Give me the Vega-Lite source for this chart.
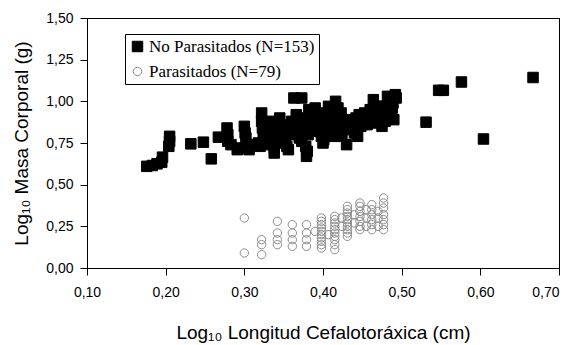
{
  "$schema": "https://vega.github.io/schema/vega-lite/v6.json",
  "width": 472,
  "height": 250,
  "autosize": {"type": "none"},
  "padding": {"left": 87, "top": 18, "right": 5, "bottom": 77},
  "background": "white",
  "config": {
    "view": {"stroke": "black", "strokeWidth": 1},
    "axis": {
      "grid": false,
      "domainColor": "black",
      "domainWidth": 1,
      "tickColor": "black",
      "labelColor": "black",
      "titleColor": "black",
      "labelFont": "Liberation Sans",
      "titleFont": "Liberation Sans",
      "labelFontSize": 14,
      "titleFontSize": 19,
      "titleFontWeight": "normal",
      "tickSize": 7,
      "labelFlush": false
    }
  },
  "data": {
    "values": [
      {"x": 0.176, "y": 0.61, "g": "No"}, {"x": 0.183, "y": 0.615, "g": "No"}, {"x": 0.189, "y": 0.625, "g": "No"}, {"x": 0.195, "y": 0.635, "g": "No"},
      {"x": 0.196, "y": 0.665, "g": "No"}, {"x": 0.204, "y": 0.73, "g": "No"}, {"x": 0.205, "y": 0.76, "g": "No"}, {"x": 0.205, "y": 0.79, "g": "No"},
      {"x": 0.232, "y": 0.745, "g": "No"}, {"x": 0.248, "y": 0.755, "g": "No"}, {"x": 0.258, "y": 0.655, "g": "No"}, {"x": 0.267, "y": 0.785, "g": "No"},
      {"x": 0.278, "y": 0.84, "g": "No"}, {"x": 0.279, "y": 0.8, "g": "No"}, {"x": 0.279, "y": 0.76, "g": "No"}, {"x": 0.283, "y": 0.74, "g": "No"},
      {"x": 0.291, "y": 0.71, "g": "No"}, {"x": 0.294, "y": 0.72, "g": "No"}, {"x": 0.3, "y": 0.85, "g": "No"}, {"x": 0.301, "y": 0.81, "g": "No"},
      {"x": 0.302, "y": 0.78, "g": "No"}, {"x": 0.304, "y": 0.73, "g": "No"}, {"x": 0.306, "y": 0.71, "g": "No"}, {"x": 0.313, "y": 0.74, "g": "No"},
      {"x": 0.318, "y": 0.75, "g": "No"}, {"x": 0.32, "y": 0.73, "g": "No"}, {"x": 0.322, "y": 0.93, "g": "No"}, {"x": 0.322, "y": 0.88, "g": "No"},
      {"x": 0.323, "y": 0.84, "g": "No"}, {"x": 0.324, "y": 0.79, "g": "No"}, {"x": 0.326, "y": 0.76, "g": "No"}, {"x": 0.33, "y": 0.74, "g": "No"},
      {"x": 0.334, "y": 0.88, "g": "No"}, {"x": 0.336, "y": 0.82, "g": "No"}, {"x": 0.338, "y": 0.69, "g": "No"}, {"x": 0.338, "y": 0.72, "g": "No"},
      {"x": 0.34, "y": 0.8, "g": "No"}, {"x": 0.342, "y": 0.77, "g": "No"}, {"x": 0.345, "y": 0.9, "g": "No"}, {"x": 0.346, "y": 0.86, "g": "No"},
      {"x": 0.348, "y": 0.83, "g": "No"}, {"x": 0.35, "y": 0.75, "g": "No"}, {"x": 0.352, "y": 0.79, "g": "No"}, {"x": 0.354, "y": 0.73, "g": "No"},
      {"x": 0.356, "y": 0.71, "g": "No"}, {"x": 0.359, "y": 0.85, "g": "No"}, {"x": 0.36, "y": 0.88, "g": "No"}, {"x": 0.362, "y": 0.8, "g": "No"},
      {"x": 0.363, "y": 1.02, "g": "No"}, {"x": 0.373, "y": 1.02, "g": "No"}, {"x": 0.366, "y": 0.92, "g": "No"}, {"x": 0.368, "y": 0.9, "g": "No"},
      {"x": 0.368, "y": 0.82, "g": "No"}, {"x": 0.37, "y": 0.78, "g": "No"}, {"x": 0.372, "y": 0.86, "g": "No"}, {"x": 0.373, "y": 0.76, "g": "No"},
      {"x": 0.375, "y": 0.84, "g": "No"}, {"x": 0.377, "y": 0.89, "g": "No"}, {"x": 0.378, "y": 0.73, "g": "No"}, {"x": 0.379, "y": 0.67, "g": "No"},
      {"x": 0.38, "y": 0.7, "g": "No"}, {"x": 0.381, "y": 0.8, "g": "No"}, {"x": 0.382, "y": 0.95, "g": "No"}, {"x": 0.384, "y": 0.87, "g": "No"},
      {"x": 0.386, "y": 0.83, "g": "No"}, {"x": 0.388, "y": 0.91, "g": "No"}, {"x": 0.39, "y": 0.96, "g": "No"}, {"x": 0.391, "y": 0.88, "g": "No"},
      {"x": 0.393, "y": 0.85, "g": "No"}, {"x": 0.395, "y": 0.82, "g": "No"}, {"x": 0.397, "y": 0.93, "g": "No"}, {"x": 0.398, "y": 0.79, "g": "No"},
      {"x": 0.4, "y": 0.75, "g": "No"}, {"x": 0.4, "y": 0.91, "g": "No"}, {"x": 0.401, "y": 0.77, "g": "No"}, {"x": 0.402, "y": 0.81, "g": "No"},
      {"x": 0.404, "y": 0.86, "g": "No"}, {"x": 0.406, "y": 0.89, "g": "No"}, {"x": 0.407, "y": 0.97, "g": "No"}, {"x": 0.408, "y": 0.84, "g": "No"},
      {"x": 0.409, "y": 0.85, "g": "No"}, {"x": 0.41, "y": 0.8, "g": "No"}, {"x": 0.411, "y": 0.79, "g": "No"}, {"x": 0.412, "y": 0.93, "g": "No"},
      {"x": 0.413, "y": 0.87, "g": "No"}, {"x": 0.416, "y": 1.0, "g": "No"}, {"x": 0.416, "y": 0.89, "g": "No"}, {"x": 0.418, "y": 0.81, "g": "No"},
      {"x": 0.419, "y": 0.96, "g": "No"}, {"x": 0.42, "y": 0.84, "g": "No"}, {"x": 0.421, "y": 0.92, "g": "No"}, {"x": 0.423, "y": 0.93, "g": "No"},
      {"x": 0.424, "y": 0.79, "g": "No"}, {"x": 0.426, "y": 0.88, "g": "No"}, {"x": 0.427, "y": 0.87, "g": "No"}, {"x": 0.428, "y": 0.83, "g": "No"},
      {"x": 0.43, "y": 0.74, "g": "No"}, {"x": 0.431, "y": 0.86, "g": "No"}, {"x": 0.433, "y": 0.89, "g": "No"}, {"x": 0.434, "y": 0.87, "g": "No"},
      {"x": 0.436, "y": 0.84, "g": "No"}, {"x": 0.438, "y": 0.88, "g": "No"}, {"x": 0.439, "y": 0.85, "g": "No"}, {"x": 0.44, "y": 0.81, "g": "No"},
      {"x": 0.442, "y": 0.9, "g": "No"}, {"x": 0.444, "y": 0.79, "g": "No"}, {"x": 0.445, "y": 0.87, "g": "No"}, {"x": 0.446, "y": 0.92, "g": "No"},
      {"x": 0.448, "y": 0.85, "g": "No"}, {"x": 0.45, "y": 0.89, "g": "No"}, {"x": 0.451, "y": 0.87, "g": "No"}, {"x": 0.453, "y": 0.93, "g": "No"},
      {"x": 0.455, "y": 0.91, "g": "No"}, {"x": 0.456, "y": 0.86, "g": "No"}, {"x": 0.458, "y": 0.88, "g": "No"}, {"x": 0.46, "y": 0.95, "g": "No"},
      {"x": 0.461, "y": 0.9, "g": "No"}, {"x": 0.463, "y": 0.87, "g": "No"}, {"x": 0.464, "y": 1.01, "g": "No"}, {"x": 0.465, "y": 0.93, "g": "No"},
      {"x": 0.466, "y": 0.89, "g": "No"}, {"x": 0.468, "y": 0.96, "g": "No"}, {"x": 0.47, "y": 0.88, "g": "No"}, {"x": 0.471, "y": 0.93, "g": "No"},
      {"x": 0.472, "y": 0.9, "g": "No"}, {"x": 0.474, "y": 0.97, "g": "No"}, {"x": 0.475, "y": 0.85, "g": "No"}, {"x": 0.476, "y": 0.92, "g": "No"},
      {"x": 0.478, "y": 0.97, "g": "No"}, {"x": 0.479, "y": 0.88, "g": "No"}, {"x": 0.48, "y": 0.94, "g": "No"}, {"x": 0.482, "y": 1.03, "g": "No"},
      {"x": 0.484, "y": 0.99, "g": "No"}, {"x": 0.485, "y": 0.91, "g": "No"}, {"x": 0.487, "y": 0.91, "g": "No"}, {"x": 0.488, "y": 0.96, "g": "No"},
      {"x": 0.489, "y": 0.99, "g": "No"}, {"x": 0.49, "y": 0.89, "g": "No"}, {"x": 0.492, "y": 1.04, "g": "No"}, {"x": 0.493, "y": 1.02, "g": "No"},
      {"x": 0.531, "y": 0.875, "g": "No"}, {"x": 0.547, "y": 1.066, "g": "No"}, {"x": 0.553, "y": 1.066, "g": "No"}, {"x": 0.576, "y": 1.116, "g": "No"},
      {"x": 0.604, "y": 0.774, "g": "No"}, {"x": 0.667, "y": 1.143, "g": "No"},
      {"x": 0.3, "y": 0.09, "g": "Par"}, {"x": 0.3, "y": 0.3, "g": "Par"},
      {"x": 0.322, "y": 0.08, "g": "Par"}, {"x": 0.322, "y": 0.14, "g": "Par"}, {"x": 0.322, "y": 0.17, "g": "Par"},
      {"x": 0.342, "y": 0.14, "g": "Par"}, {"x": 0.342, "y": 0.17, "g": "Par"}, {"x": 0.342, "y": 0.21, "g": "Par"}, {"x": 0.342, "y": 0.28, "g": "Par"},
      {"x": 0.361, "y": 0.13, "g": "Par"}, {"x": 0.361, "y": 0.17, "g": "Par"}, {"x": 0.361, "y": 0.21, "g": "Par"}, {"x": 0.361, "y": 0.26, "g": "Par"},
      {"x": 0.379, "y": 0.13, "g": "Par"}, {"x": 0.379, "y": 0.17, "g": "Par"}, {"x": 0.379, "y": 0.21, "g": "Par"}, {"x": 0.379, "y": 0.26, "g": "Par"},
      {"x": 0.39, "y": 0.22, "g": "Par"},
      {"x": 0.398, "y": 0.12, "g": "Par"}, {"x": 0.398, "y": 0.14, "g": "Par"}, {"x": 0.398, "y": 0.16, "g": "Par"}, {"x": 0.398, "y": 0.18, "g": "Par"},
      {"x": 0.398, "y": 0.2, "g": "Par"}, {"x": 0.398, "y": 0.22, "g": "Par"}, {"x": 0.398, "y": 0.24, "g": "Par"}, {"x": 0.398, "y": 0.26, "g": "Par"},
      {"x": 0.398, "y": 0.28, "g": "Par"}, {"x": 0.398, "y": 0.3, "g": "Par"},
      {"x": 0.407, "y": 0.2, "g": "Par"},
      {"x": 0.415, "y": 0.11, "g": "Par"}, {"x": 0.415, "y": 0.14, "g": "Par"}, {"x": 0.415, "y": 0.17, "g": "Par"}, {"x": 0.415, "y": 0.19, "g": "Par"},
      {"x": 0.415, "y": 0.21, "g": "Par"}, {"x": 0.415, "y": 0.23, "g": "Par"}, {"x": 0.415, "y": 0.25, "g": "Par"}, {"x": 0.415, "y": 0.27, "g": "Par"},
      {"x": 0.415, "y": 0.29, "g": "Par"}, {"x": 0.415, "y": 0.31, "g": "Par"},
      {"x": 0.424, "y": 0.25, "g": "Par"}, {"x": 0.424, "y": 0.3, "g": "Par"},
      {"x": 0.431, "y": 0.19, "g": "Par"}, {"x": 0.431, "y": 0.21, "g": "Par"}, {"x": 0.431, "y": 0.23, "g": "Par"}, {"x": 0.431, "y": 0.25, "g": "Par"},
      {"x": 0.431, "y": 0.27, "g": "Par"}, {"x": 0.431, "y": 0.29, "g": "Par"}, {"x": 0.431, "y": 0.31, "g": "Par"}, {"x": 0.431, "y": 0.33, "g": "Par"},
      {"x": 0.431, "y": 0.35, "g": "Par"}, {"x": 0.431, "y": 0.37, "g": "Par"},
      {"x": 0.44, "y": 0.27, "g": "Par"}, {"x": 0.44, "y": 0.32, "g": "Par"},
      {"x": 0.447, "y": 0.23, "g": "Par"}, {"x": 0.447, "y": 0.25, "g": "Par"}, {"x": 0.447, "y": 0.28, "g": "Par"}, {"x": 0.447, "y": 0.31, "g": "Par"},
      {"x": 0.447, "y": 0.34, "g": "Par"}, {"x": 0.447, "y": 0.37, "g": "Par"}, {"x": 0.447, "y": 0.39, "g": "Par"},
      {"x": 0.455, "y": 0.25, "g": "Par"}, {"x": 0.455, "y": 0.3, "g": "Par"}, {"x": 0.455, "y": 0.35, "g": "Par"},
      {"x": 0.462, "y": 0.23, "g": "Par"}, {"x": 0.462, "y": 0.26, "g": "Par"}, {"x": 0.462, "y": 0.29, "g": "Par"}, {"x": 0.462, "y": 0.32, "g": "Par"},
      {"x": 0.462, "y": 0.35, "g": "Par"}, {"x": 0.462, "y": 0.38, "g": "Par"},
      {"x": 0.47, "y": 0.25, "g": "Par"}, {"x": 0.47, "y": 0.3, "g": "Par"}, {"x": 0.47, "y": 0.34, "g": "Par"},
      {"x": 0.477, "y": 0.23, "g": "Par"}, {"x": 0.477, "y": 0.26, "g": "Par"}, {"x": 0.477, "y": 0.29, "g": "Par"}, {"x": 0.477, "y": 0.32, "g": "Par"},
      {"x": 0.477, "y": 0.36, "g": "Par"}, {"x": 0.477, "y": 0.39, "g": "Par"}, {"x": 0.477, "y": 0.42, "g": "Par"}
    ]
  },
  "resolve": {"axis": {"x": "independent", "y": "independent"}},
  "layer": [
    {
      "mark": {"type": "point", "strokeWidth": 1, "opacity": 1},
      "encoding": {
        "x": {
          "field": "x", "type": "quantitative",
          "scale": {"domain": [0.1, 0.7], "nice": false, "zero": false},
          "axis": {
            "orient": "bottom",
            "values": [0.1, 0.2, 0.3, 0.4, 0.5, 0.6, 0.7],
            "labelExpr": "replace(format(datum.value, '.2f'), '.', ',')",
            "labelAlign": {"condition": {"test": "datum.value > 0.65", "value": "right"}, "value": "center"},
            "labelPadding": 10,
            "titlePadding": 24,
            "title": "Log₁₀ Longitud Cefalotoráxica (cm)"
          }
        },
        "y": {
          "field": "y", "type": "quantitative",
          "scale": {"domain": [0, 1.5], "nice": false, "zero": false},
          "axis": {
            "orient": "left",
            "values": [0, 0.25, 0.5, 0.75, 1.0, 1.25, 1.5],
            "labelExpr": "replace(format(datum.value, '.2f'), '.', ',')",
            "labelPadding": 7,
            "titlePadding": 14,
            "title": "Log₁₀ Masa Corporal (g)"
          }
        },
        "shape": {
          "field": "g", "type": "nominal",
          "scale": {"domain": ["No", "Par"], "range": ["square", "circle"]},
          "legend": {
            "title": null, "orient": "none", "legendX": 38, "legendY": 16,
            "strokeColor": "black", "fillColor": "white", "padding": 4, "rowPadding": 7, "labelOffset": 3,
            "labelFont": "Liberation Serif", "labelFontSize": 17, "labelColor": "black", "labelLimit": 400,
            "symbolStrokeWidth": 1,
            "labelExpr": "datum.label == 'No' ? 'No Parasitados (N=153)' : 'Parasitados (N=79)'"
          }
        },
        "fill": {
          "field": "g", "type": "nominal",
          "scale": {"domain": ["No", "Par"], "range": ["black", "transparent"]},
          "legend": {
            "title": null, "orient": "none", "legendX": 38, "legendY": 16,
            "strokeColor": "black", "fillColor": "white", "padding": 4, "rowPadding": 7, "labelOffset": 3,
            "labelFont": "Liberation Serif", "labelFontSize": 17, "labelColor": "black", "labelLimit": 400,
            "symbolStrokeWidth": 1,
            "labelExpr": "datum.label == 'No' ? 'No Parasitados (N=153)' : 'Parasitados (N=79)'"
          }
        },
        "stroke": {
          "field": "g", "type": "nominal",
          "scale": {"domain": ["No", "Par"], "range": ["black", "#8c8c8c"]},
          "legend": {
            "title": null, "orient": "none", "legendX": 38, "legendY": 16,
            "strokeColor": "black", "fillColor": "white", "padding": 4, "rowPadding": 7, "labelOffset": 3,
            "labelFont": "Liberation Serif", "labelFontSize": 17, "labelColor": "black", "labelLimit": 400,
            "symbolStrokeWidth": 1,
            "labelExpr": "datum.label == 'No' ? 'No Parasitados (N=153)' : 'Parasitados (N=79)'"
          }
        },
        "size": {
          "field": "g", "type": "nominal",
          "scale": {"domain": ["No", "Par"], "range": [110, 70]},
          "legend": {
            "title": null, "orient": "none", "legendX": 38, "legendY": 16,
            "strokeColor": "black", "fillColor": "white", "padding": 4, "rowPadding": 7, "labelOffset": 3,
            "labelFont": "Liberation Serif", "labelFontSize": 17, "labelColor": "black", "labelLimit": 400,
            "symbolStrokeWidth": 1,
            "labelExpr": "datum.label == 'No' ? 'No Parasitados (N=153)' : 'Parasitados (N=79)'"
          }
        }
      }
    },
    {
      "mark": {"type": "point", "opacity": 0},
      "encoding": {
        "x": {
          "field": "x", "type": "quantitative",
          "axis": {"orient": "top", "labels": false, "ticks": false, "title": null, "domainColor": "black"}
        },
        "y": {
          "field": "y", "type": "quantitative",
          "axis": {"orient": "right", "labels": false, "ticks": false, "title": null, "domainColor": "black"}
        }
      }
    }
  ]
}
